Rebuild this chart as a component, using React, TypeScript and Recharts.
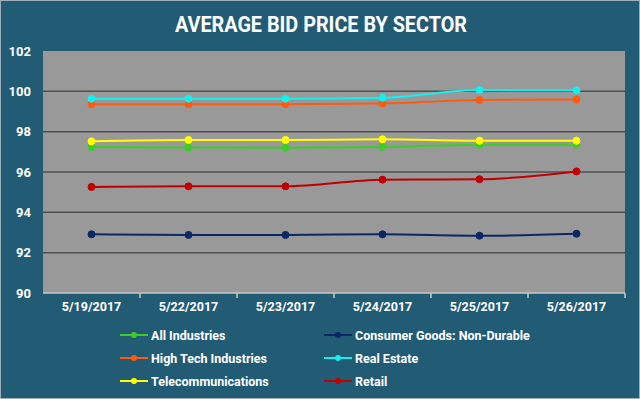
// Average bid price by sector - line chart

import { LineChart, Line, XAxis, YAxis, CartesianGrid, ReferenceLine } from 'recharts';

const DATES = ['5/19/2017', '5/22/2017', '5/23/2017', '5/24/2017', '5/25/2017', '5/26/2017'];
const ALL_INDUSTRIES = [97.24, 97.22, 97.2, 97.24, 97.35, 97.35];
const CONSUMER_GOODS = [92.91, 92.88, 92.88, 92.91, 92.84, 92.94];
const HIGH_TECH = [99.36, 99.36, 99.36, 99.4, 99.57, 99.6];
const REAL_ESTATE = [99.63, 99.63, 99.63, 99.68, 100.06, 100.05];
const TELECOM = [97.52, 97.59, 97.59, 97.62, 97.55, 97.55];
const RETAIL = [95.26, 95.29, 95.29, 95.62, 95.64, 96.03];
const Y_TICKS = [90, 92, 94, 96, 98, 100, 102];
const GRID_VALUES = [92, 94, 96, 98, 100];

const SERIES = [
  { key: 'allInd', name: 'All Industries', color: '#3fcc2a', values: ALL_INDUSTRIES },
  { key: 'consumer', name: 'Consumer Goods: Non-Durable', color: '#0b2766', values: CONSUMER_GOODS },
  { key: 'hightech', name: 'High Tech Industries', color: '#ff5a12', values: HIGH_TECH },
  { key: 'realestate', name: 'Real Estate', color: '#14f0f0', values: REAL_ESTATE },
  { key: 'telecom', name: 'Telecommunications', color: '#ffff00', values: TELECOM },
  { key: 'retail', name: 'Retail', color: '#c00000', values: RETAIL },
];

const data = DATES.map((d, i) => {
  const row: Record<string, number | string> = { idx: i, date: d };
  SERIES.forEach(s => { row[s.key] = s.values[i]; });
  return row;
});

// boundaries between categories, for the small tick marks
const BOUNDS = DATES.map((_, i) => i + 0.5);

const BG = '#225b74';
const FONT = 'Roboto, "DejaVu Sans", sans-serif';

export default function App() {
  return (
    <div style={{ position: 'absolute', left: 0, top: 0, width: 640, height: 399, background: BG, boxSizing: 'border-box', border: '1px solid #9fb0ba', fontFamily: FONT }}>
      <div style={{ position: 'absolute', left: 0, top: 11, width: 640, textAlign: 'center', color: 'white', fontWeight: 700, fontSize: 22, transform: 'scaleX(0.9)' }}>
        AVERAGE BID PRICE BY SECTOR
      </div>
      <div style={{ position: 'absolute', left: -1, top: -1 }}>
        <LineChart width={640} height={399} data={data} margin={{ top: 51, right: 15, bottom: 76, left: 0 }}>
          <CartesianGrid vertical={false} fill="#999999" stroke="#505050" strokeWidth={1.5} horizontalValues={GRID_VALUES} />
          <XAxis dataKey="idx" type="number" domain={[-0.5, 5.5]} ticks={[0, 1, 2, 3, 4, 5]}
            tickFormatter={(i: number) => DATES[i]} height={30}
            axisLine={{ stroke: '#c9c9c9', strokeWidth: 1.5 }} tickLine={false} tickSize={0} tickMargin={9}
            tick={{ fill: '#ffffff', fontSize: 12.5, fontWeight: 700, fontFamily: FONT }} />
          <YAxis domain={[90, 102]} ticks={Y_TICKS} width={43} axisLine={false} tickLine={false} tickSize={0} tickMargin={12}
            tick={{ fill: '#ffffff', fontSize: 13, fontWeight: 700, fontFamily: FONT }} />
          {BOUNDS.map(b => (
            <ReferenceLine key={b} segment={[{ x: b, y: 90 }, { x: b, y: 89.75 }]} ifOverflow="visible" stroke="#c9c9c9" strokeWidth={1.5} />
          ))}
          {SERIES.map(s => (
            <Line key={s.key} type="monotone" dataKey={s.key} name={s.name} stroke={s.color} strokeWidth={2}
              dot={{ r: 3.5, fill: s.color, stroke: s.color, strokeWidth: 1 }} isAnimationActive={false} />
          ))}
        </LineChart>
      </div>
      {/* legend, two columns */}
      <div style={{ position: 'absolute', left: 119, top: 325, display: 'grid', gridTemplateColumns: '204px 260px', rowGap: 5 }}>
        {SERIES.map(s => (
          <div key={s.key} style={{ display: 'flex', alignItems: 'center', height: 18, color: 'white', fontWeight: 700, fontSize: 12.5 }}>
            <svg width={30} height={10} style={{ marginRight: 1 }}>
              <line x1={0} y1={5} x2={28} y2={5} stroke={s.color} strokeWidth={2} />
              <circle cx={14} cy={5} r={3} fill={s.color} />
            </svg>
            <span>{s.name}</span>
          </div>
        ))}
      </div>
    </div>
  );
}
